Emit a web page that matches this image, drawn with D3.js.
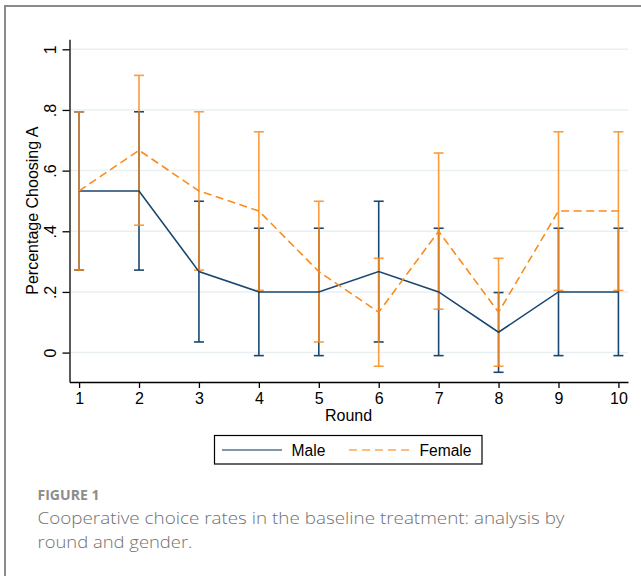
<!DOCTYPE html>
<html>
<head>
<meta charset="utf-8">
<script src="https://cdn.jsdelivr.net/npm/d3@7"></script>
<style>
  html, body { margin: 0; padding: 0; background: #fff; }
  svg { display: block; }
</style>
</head>
<body>
<svg id="chart" width="641" height="576"></svg>
<script>
// ---------- data ----------
const rounds = [1, 2, 3, 4, 5, 6, 7, 8, 9, 10];
const maleMean = [0.533, 0.533, 0.267, 0.2, 0.2, 0.267, 0.2, 0.067, 0.2, 0.2];
const maleLo   = [0.272, 0.272, 0.035, -0.01, -0.01, 0.035, -0.01, -0.065, -0.01, -0.01];
const maleHi   = [0.794, 0.794, 0.499, 0.41, 0.41, 0.499, 0.41, 0.198, 0.41, 0.41];
const femaleMean = [0.533, 0.667, 0.533, 0.467, 0.267, 0.133, 0.4, 0.133, 0.467, 0.467];
const femaleLo   = [0.272, 0.42, 0.272, 0.205, 0.035, -0.045, 0.143, -0.045, 0.205, 0.205];
const femaleHi   = [0.794, 0.914, 0.794, 0.728, 0.499, 0.311, 0.658, 0.311, 0.728, 0.728];
const yTicks = [0, 0.2, 0.4, 0.6, 0.8, 1];
const yTickLabels = ["0", ".2", ".4", ".6", ".8", "1"];
const seriesNames = ["Male", "Female"];
const xTitle = "Round";
const yTitle = "Percentage Choosing A";
const figLabel = "FIGURE 1";
const captionLines = ["Cooperative choice rates in the baseline treatment: analysis by", "round and gender."];

// ---------- setup ----------
const svg = d3.select("#chart");
const NAVY = "#1a476f", ORANGE = "#fb8b1c";
const font = "'Liberation Sans', Arial, sans-serif";
const FS = 16;

// frame (left + top)
svg.append("line").attr("x1", 4).attr("x2", 641).attr("y1", 6).attr("y2", 6)
  .attr("stroke", "#8a8a8a").attr("stroke-width", 2);
svg.append("line").attr("x1", 5).attr("x2", 5).attr("y1", 5).attr("y2", 576)
  .attr("stroke", "#8a8a8a").attr("stroke-width", 2);

const x = d3.scaleLinear().domain([0.84, 10.16]).range([69.5, 628]);
const y = d3.scaleLinear().domain([-0.097, 1.033]).range([382, 39.3]);

// gridlines
svg.append("g").selectAll("line").data(yTicks).join("line")
  .attr("x1", 70).attr("x2", 628)
  .attr("y1", d => y(d)).attr("y2", d => y(d))
  .attr("stroke", "#e9f0f2").attr("stroke-width", 1.5);

// axes
const yAxis = d3.axisLeft(y).tickValues(yTicks).tickFormat((d, i) => yTickLabels[i])
  .tickSize(7).tickSizeOuter(0);
const gy = svg.append("g").attr("transform", "translate(69.5,0)").call(yAxis);
gy.select(".domain").attr("stroke", "#000").attr("stroke-width", 1.3);
gy.selectAll(".tick line").attr("stroke", "#000").attr("stroke-width", 1.3);
gy.selectAll(".tick text")
  .attr("font-family", font).attr("font-size", FS).attr("fill", "#000")
  .attr("text-anchor", "middle").attr("dy", null).attr("x", null)
  .attr("transform", "translate(-14,0) rotate(-90)");

const xAxis = d3.axisBottom(x).tickValues(rounds).tickFormat(d3.format("d"))
  .tickSize(6).tickSizeOuter(0);
const gx = svg.append("g").attr("transform", "translate(0,382)").call(xAxis);
gx.select(".domain").attr("stroke", "#000").attr("stroke-width", 1.3);
gx.selectAll(".tick line").attr("stroke", "#000").attr("stroke-width", 1.3);
gx.selectAll(".tick text").attr("font-family", font).attr("font-size", FS).attr("fill", "#000")
  .attr("dy", null).attr("y", 22);

// axis titles
svg.append("text").attr("x", 348.5).attr("y", 421).attr("text-anchor", "middle")
  .attr("font-family", font).attr("font-size", FS).text(xTitle);
svg.append("text").attr("transform", `translate(37.5,${(39.3 + 382) / 2}) rotate(-90)`)
  .attr("text-anchor", "middle").attr("font-family", font).attr("font-size", FS).text(yTitle);

// error bars
function drawCaps(lo, hi, color, opacity) {
  const g = svg.append("g").attr("stroke", color).attr("stroke-width", 1.6).attr("opacity", opacity);
  rounds.forEach((r, i) => {
    g.append("line").attr("x1", x(r)).attr("x2", x(r)).attr("y1", y(lo[i])).attr("y2", y(hi[i]));
    g.append("line").attr("x1", x(r) - 5).attr("x2", x(r) + 5).attr("y1", y(lo[i])).attr("y2", y(lo[i]));
    g.append("line").attr("x1", x(r) - 5).attr("x2", x(r) + 5).attr("y1", y(hi[i])).attr("y2", y(hi[i]));
  });
}
drawCaps(maleLo, maleHi, NAVY, 1);
drawCaps(femaleLo, femaleHi, ORANGE, 0.85);

// lines
const line = d3.line().x(d => x(d[0])).y(d => y(d[1]));
svg.append("path").datum(rounds.map((r, i) => [r, maleMean[i]]))
  .attr("d", line).attr("fill", "none").attr("stroke", NAVY).attr("stroke-width", 1.6);
svg.append("path").datum(rounds.map((r, i) => [r, femaleMean[i]]))
  .attr("d", line).attr("fill", "none").attr("stroke", ORANGE).attr("stroke-width", 1.6)
  .attr("stroke-dasharray", "8,4.5");

// legend
const lg = svg.append("g");
lg.append("rect").attr("x", 214.5).attr("y", 435.5).attr("width", 267.5).attr("height", 28.5)
  .attr("fill", "#fff").attr("stroke", "#000").attr("stroke-width", 1.2);
lg.append("line").attr("x1", 222).attr("x2", 282).attr("y1", 450).attr("y2", 450)
  .attr("stroke", NAVY).attr("stroke-width", 1.6).attr("opacity", 0.75);
lg.append("text").attr("x", 291.5).attr("y", 455.5).attr("font-family", font).attr("font-size", 15.6).text(seriesNames[0]);
lg.append("line").attr("x1", 349).attr("x2", 409).attr("y1", 450).attr("y2", 450)
  .attr("stroke", ORANGE).attr("stroke-width", 1.6).attr("stroke-dasharray", "8,5").attr("opacity", 0.75);
lg.append("text").attr("x", 419.5).attr("y", 455.5).attr("font-family", font).attr("font-size", 15.6).text(seriesNames[1]);

// caption
const capFont = "'Open Sans', Lato, sans-serif";
svg.append("text").attr("x", 37.5).attr("y", 500).attr("font-family", capFont)
  .attr("font-size", 14.5).attr("font-weight", 700).attr("fill", "#8c8c8c")
  .attr("textLength", 62).attr("lengthAdjust", "spacingAndGlyphs").text(figLabel);
const capLens = [527, 155];
svg.selectAll("text.cap").data(captionLines).join("text").attr("class", "cap")
  .attr("x", 37.5).attr("y", (d, i) => 523.5 + i * 24.5)
  .attr("font-family", capFont).attr("font-size", 16.5).attr("font-weight", 300)
  .attr("fill", "#707070")
  .attr("textLength", (d, i) => capLens[i]).attr("lengthAdjust", "spacingAndGlyphs")
  .text(d => d);
</script>
</body>
</html>
